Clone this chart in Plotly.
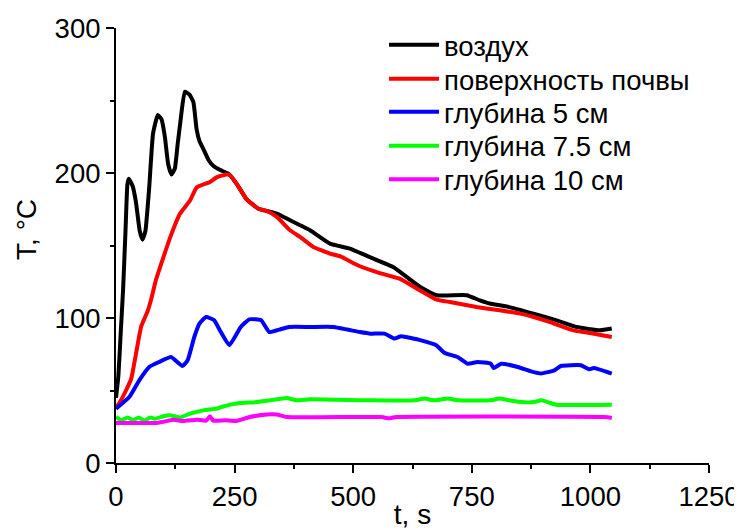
import plotly.graph_objects as go

# --- data ---
t_air = [0, 5, 10, 15, 20, 24, 27, 35, 42, 50, 56, 62, 70, 78, 88, 96, 103, 110, 117, 124, 130, 136,
         145, 155, 163, 170, 176, 185, 195, 205, 220, 237, 254, 275, 300, 318, 339, 367, 388, 409,
         451, 493, 528, 585, 641, 676, 739, 767, 788, 823, 880, 929, 971, 1020, 1045]
T_air = [45, 60, 90, 120, 160, 192, 196, 191, 180, 160, 154, 160, 190, 227, 240, 237, 225, 206, 199, 203, 220, 236,
         256, 254, 249, 230, 222, 216, 209, 205, 202, 199.5, 192.7, 182, 175.4, 173.8, 172, 167.4, 164, 160.5,
         151.3, 147.9, 143, 135, 121.4, 115.7, 115.7, 112.2, 110, 108, 103, 98.4, 93.8, 91.5, 92.7]

t_surf = [0, 10, 21, 32, 42, 53, 67, 75, 84, 100, 117, 135, 156, 170, 198, 212, 233, 240, 254, 275, 300, 318,
          339, 367, 388, 416, 451, 472, 514, 556, 599, 634, 676, 704, 760, 809, 852, 880, 915, 964, 999, 1045]
T_surf = [38, 43, 50, 58, 75, 94, 105, 114, 126, 142, 158, 172, 181, 190, 193.8, 197, 199, 198.5, 192.7, 182, 175.4, 173.8,
          169.7, 160.5, 155.9, 149, 144.4, 142.6, 135.7, 131, 127, 120.3, 112.7, 111, 107.6, 105.3, 103, 100.7, 97.2, 91.5, 89.7, 86.9]

t_5 = [0, 28, 49, 70, 91, 116, 140, 151, 165, 176, 190, 207, 221, 239, 263, 281, 306, 323, 344, 365, 409, 458,
       514, 537, 566, 587, 601, 643, 675, 692, 720, 741, 762, 790, 796, 812, 847, 875, 896, 924, 938, 980,
       998, 1007, 1045]
T_5 = [37.5, 45.5, 57, 66.2, 69.7, 73.1, 66.9, 70.8, 86.9, 96.1, 100.7, 98.4, 90.3, 81.2, 93.8, 99.1, 98.4, 90.3, 92, 93.8, 93.8, 93.8,
       90.3, 89.2, 89.2, 85.8, 87.4, 84.6, 81.2, 76.1, 73.1, 68.5, 69.7, 68.5, 65.5, 68.5, 66.2, 63.2, 61.7, 63.9, 66.9, 67.4,
       64.6, 65.5, 61.7]

t_75 = [0, 12, 24, 36, 48, 60, 72, 82, 100, 114, 135, 156, 184, 212, 226, 254, 297, 325, 360, 381, 409,
        537, 630, 650, 670, 700, 720, 790, 807, 830, 854, 880, 896, 910, 928, 1045]
T_75 = [31.7, 29.5, 31.4, 29.5, 31.4, 29.2, 31.4, 30.5, 32.2, 32.9, 31.4, 34, 36.3, 37.5, 39, 41, 42, 43.2, 44.8, 43.2, 44,
        43.2, 43.2, 44.4, 43.2, 44.4, 43.2, 43.2, 44.4, 43.2, 42, 42, 43.2, 42, 40.2, 40.2]

t_10 = [0, 82, 100, 121, 142, 170, 190, 198, 205, 230, 254, 282, 318, 339, 360, 560, 575, 590, 1030, 1045]
T_10 = [27.6, 27.6, 28.5, 29.9, 28.9, 29.9, 29.2, 32.2, 29.2, 29.5, 29, 31.7, 33.4, 33.4, 31.7, 31.7, 30.8, 31.7, 31.7, 31]

names = ["воздух", "поверхность почвы", "глубина 5 см", "глубина 7.5 см", "глубина 10 см"]
colors = ["#000000", "#FF0000", "#0000FF", "#00FF00", "#FF00FF"]
series = [(t_air, T_air), (t_surf, T_surf), (t_5, T_5), (t_75, T_75), (t_10, T_10)]

x_ticks = [0, 250, 500, 750, 1000, 1250]
y_ticks = [0, 100, 200, 300]
x_title = "t, s"
y_title = "T, °C"

FONT = "Arial, Liberation Sans, sans-serif"

legend_ids = ["legend", "legend2", "legend3", "legend4", "legend5"]
legend_rows = [0.961, 0.883, 0.807, 0.729, 0.652]  # paper-y of each legend row

fig = go.Figure()
for (tx, ty), name, col, lid in zip(series, names, colors, legend_ids):
    fig.add_trace(go.Scatter(x=tx, y=ty, mode="lines", name=name, legend=lid,
                             line=dict(color=col, width=4, shape="spline", smoothing=0.4)))

axis_common = dict(
    showline=True, linecolor="black", linewidth=2,
    ticks="outside", ticklen=8, tickwidth=2, tickcolor="black",
    showgrid=False, zeroline=False, automargin=False,
    tickfont=dict(family=FONT, size=27.5, color="black"),
)

legend_style = dict(x=0.452, xanchor="left", yanchor="middle",
                    font=dict(family=FONT, size=27.5, color="black"),
                    itemwidth=50, bgcolor="rgba(0,0,0,0)", borderwidth=0)

layout_legends = {lid: dict(y=yy, **legend_style) for lid, yy in zip(legend_ids, legend_rows)}

# the page body adds an 8px offset; the figure is sized so the plot lands where the reference has it
fig.update_layout(
    width=734, height=522,
    paper_bgcolor="white", plot_bgcolor="white",
    margin=dict(l=108, r=33, t=20, b=67),
    font=dict(family=FONT, color="black"),
    xaxis=dict(range=[0, 1250], tickvals=x_ticks,
               minor=dict(ticks="outside", ticklen=4, tickwidth=2, tickcolor="black", dtick=125),
               title=dict(text=x_title, font=dict(family=FONT, size=28), standoff=0),
               **axis_common),
    yaxis=dict(range=[0, 300], tickvals=y_ticks,
               minor=dict(ticks="outside", ticklen=4, tickwidth=2, tickcolor="black", dtick=50),
               **axis_common),
    annotations=[dict(text=y_title, xref="paper", yref="paper", x=-0.150, y=0.536,
                      xanchor="center", yanchor="middle", textangle=-90, showarrow=False,
                      font=dict(family=FONT, size=28, color="black"))],
    showlegend=True,
    **layout_legends,
)

fig.write_html("out.html")
